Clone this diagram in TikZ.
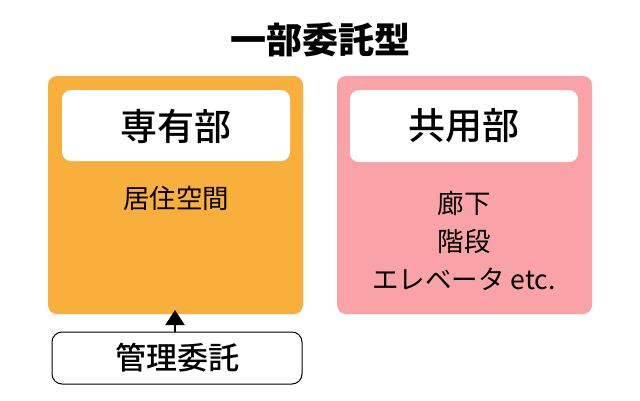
\documentclass[tikz,border=0pt]{standalone}
\usepackage{fontspec}
\setmainfont{Noto Sans CJK JP}
\newfontfamily\jpmed{Noto Sans CJK JP Medium}
\usetikzlibrary{arrows.meta}
\definecolor{orangebox}{HTML}{F9AF3C}
\definecolor{pinkbox}{HTML}{F9A3A8}
\tikzset{
  panel/.style={rounded corners=9pt, draw=none},
  whitebox/.style={rounded corners=9pt, fill=white, draw=none},
  framebox/.style={rounded corners=10pt, fill=white, draw=black, line width=1pt},
  bigtxt/.style={font=\fontsize{37}{37}\selectfont\jpmed},
  body/.style={font=\fontsize{26.5}{38}\selectfont, align=center},
}
\begin{document}
\begin{tikzpicture}[x=1pt,y=-1pt]
\useasboundingbox (0,0) rectangle (640,400);
\fill[white] (0,0) rectangle (640,400);
\node[font=\fontsize{36}{36}\selectfont\bfseries] (title) at (320,40) {一部委託型};
% left
\fill[panel, fill=orangebox] (48,76) rectangle (303,314);
\coordinate (leftbottom) at (175,310);
\fill[whitebox] (62,90) rectangle (290,161);
\node[bigtxt] (senyu) at (176,126) {専有部};
\node[body] (kyoju) at (176,198) {居住空間};
% right
\fill[panel, fill=pinkbox] (337,76) rectangle (592,314);
\fill[whitebox] (350,90) rectangle (578,162);
\node[bigtxt] (kyoyo) at (464,126) {共用部};
\node[body] (items) at (464,241) {廊下\\階段\\エレベータ etc.};
% bottom
\node[framebox, minimum width=250pt, minimum height=52pt, font=\fontsize{31}{31}\selectfont\jpmed] (kanri) at (177,358) {管理委託};
\draw[line width=2pt, -{Triangle[length=15pt,width=19pt]}] (kanri.north -| leftbottom) -- (leftbottom);
\end{tikzpicture}
\end{document}
